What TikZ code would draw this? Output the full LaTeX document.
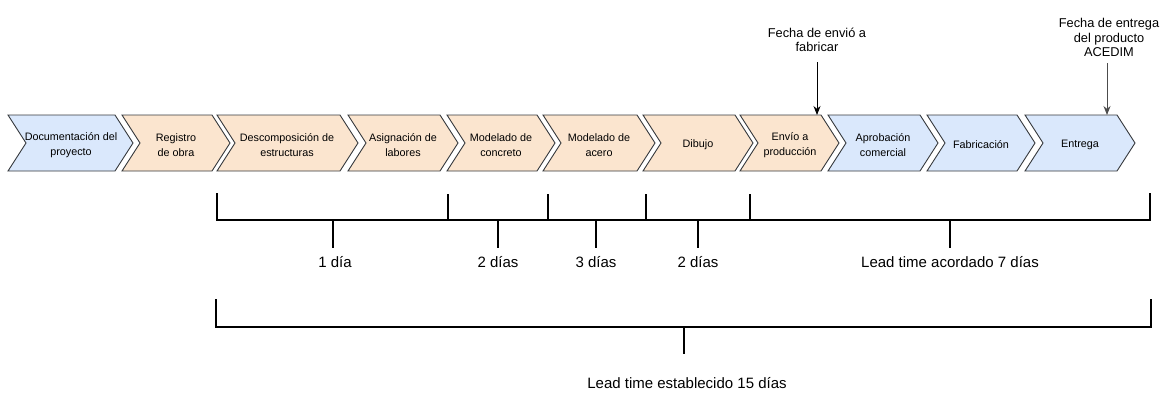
\documentclass[tikz,border=0pt]{standalone}
\usepackage{fontspec}
\setmainfont{Liberation Sans}
\usetikzlibrary{arrows.meta}
\definecolor{bluefill}{HTML}{DAE8FC}
\definecolor{orangefill}{HTML}{FBE5CF}
\definecolor{edgegray}{HTML}{36393D}
\tikzset{
  stepshape/.style={draw=edgegray, line width=0.9pt, line join=miter},
  steptext/.style={align=center, font=\fontsize{10.8}{15}\selectfont, inner sep=0pt},
  toplabel/.style={align=center, font=\fontsize{12.8}{14.4}\selectfont, inner sep=0pt},
  durlabel/.style={anchor=base, font=\fontsize{15}{18}\selectfont, inner sep=0pt},
  bracket/.style={line width=1.8pt, line cap=rect},
  tick/.style={line width=1.8pt},
  pointer/.style={line width=1pt, -{Stealth[length=9pt,width=7pt]}}
}
\newcommand{\chev}[3]{% left, tip, fill
  \fill[#3] (#1,115) -- (#2-18,115) -- (#2,143) -- (#2-18,171) -- (#1,171) -- (#1+18,143) -- cycle;
  \draw[stepshape] (#1,115) -- (#2-18,115) -- (#2,143) -- (#2-18,171) -- (#1,171) -- (#1+18,143) -- cycle;
}
\begin{document}
\begin{tikzpicture}[x=1pt,y=-1pt]
\useasboundingbox (0,0) rectangle (1164,392);
% chevrons
\chev{8}{133}{bluefill}
\chev{122}{230}{orangefill}
\chev{217}{358}{orangefill}
\chev{348}{458}{orangefill}
\chev{447}{555}{orangefill}
\chev{543}{655}{orangefill}
\chev{643}{753}{orangefill}
\chev{740}{839}{orangefill}
\chev{828}{938}{bluefill}
\chev{927}{1035}{bluefill}
\chev{1025}{1135}{bluefill}
% texts
\node[steptext] (s1) at (71,145) {Documentación del\\proyecto};
\node[steptext] (s2) at (176,145) {Registro\\de obra};
\node[steptext] (s3) at (287,145) {Descomposición de\\estructuras};
\node[steptext] (s4) at (403,145) {Asignación de\\labores};
\node[steptext] (s5) at (501,145) {Modelado de\\concreto};
\node[steptext] (s6) at (599,145) {Modelado de\\acero};
\node[steptext] (s7) at (698,145) {Dibujo};
\node[steptext] (s8) at (790,145) {Envío a\\producción};
\node[steptext] (s9) at (883,145) {Aprobación\\comercial};
\node[steptext] (s10) at (981,145) {Fabricación};
\node[steptext] (s11) at (1080,145) {Entrega};
% top labels and arrows
\node[toplabel] (f1) at (817,40) {Fecha de envió a\\fabricar};
\node[toplabel] (f2) at (1109,37.5) {Fecha de entrega\\del producto\\ACEDIM};
\coordinate (p1) at (817,115);
\coordinate (p2) at (1107,115);
\draw[pointer, black] (p1 |- 0,62) -- (p1);
\draw[pointer, black!70] (p2 |- 0,63) -- (p2);
% upper bracket
\draw[bracket] (217,194) -- (217,220) -- (1150,220) -- (1150,194);
\foreach \x in {448,548,646,750} \draw[tick] (\x,194) -- (\x,220);
\foreach \x in {333,498,596,698,950} \draw[tick] (\x,220) -- (\x,248);
\node[durlabel] (d1) at (335,267) {1 día};
\node[durlabel] (d2) at (498,267) {2 días};
\node[durlabel] (d3) at (596,267) {3 días};
\node[durlabel] (d4) at (698,267) {2 días};
\node[durlabel] (d5) at (950,267) {Lead time acordado 7 días};
% lower bracket
\draw[bracket] (216,300) -- (216,327) -- (1151,327) -- (1151,300);
\draw[line width=1.5pt] (684,327) -- (684,354);
\node[durlabel] (d6) at (687,388) {Lead time establecido 15 días};
\end{tikzpicture}
\end{document}
